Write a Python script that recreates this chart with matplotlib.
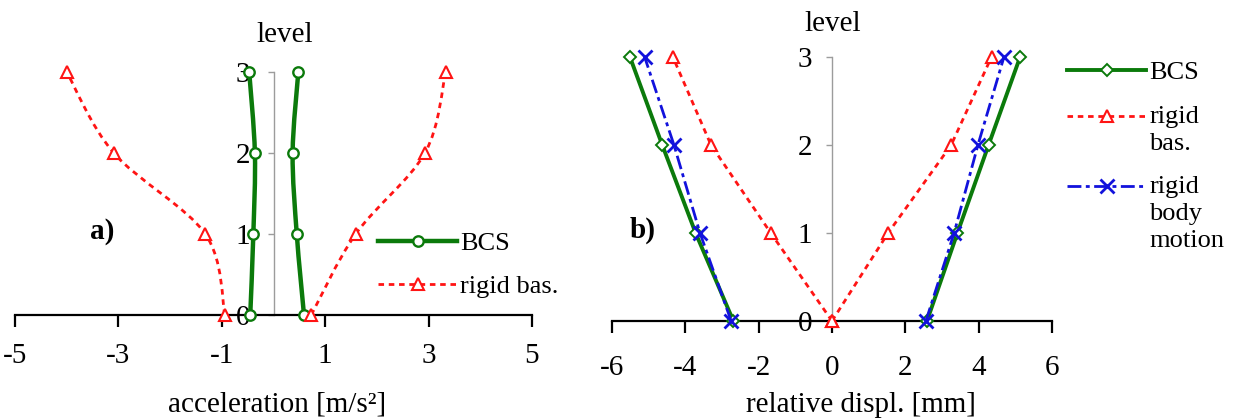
import matplotlib
matplotlib.use('Agg')
import numpy as np
import matplotlib.pyplot as plt
from matplotlib.path import Path
from matplotlib.patches import PathPatch
from matplotlib.lines import Line2D
from matplotlib.legend_handler import HandlerLine2D

plt.rcParams['font.family'] = ['Liberation Serif', 'DejaVu Serif']
plt.rcParams['axes.unicode_minus'] = False

# ---------------- data ----------------
levels = [0, 1, 2, 3]
level_labels = ['0', '1', '2', '3']

acc_ticks = [-5, -3, -1, 1, 3, 5]
acc_bcs_min = [-0.45, -0.39, -0.36, -0.47]
acc_bcs_max = [0.59, 0.45, 0.37, 0.48]
acc_rigid_min = [-0.94, -1.32, -3.09, -4.00]
acc_rigid_max = [0.73, 1.59, 2.93, 3.33]

disp_ticks = [-6, -4, -2, 0, 2, 4, 6]
disp_bcs_min = [-2.69, -3.72, -4.63, -5.51]
disp_bcs_max = [2.59, 3.42, 4.27, 5.13]
disp_rigid_min = [0.0, -1.67, -3.30, -4.34]
disp_rigid_max = [0.0, 1.53, 3.25, 4.35]
disp_rbm_min = [-2.75, -3.60, -4.31, -5.11]
disp_rbm_max = [2.56, 3.33, 3.98, 4.69]

labels_a = ['BCS', 'rigid bas.']
labels_b = ['BCS', 'rigid\nbas.', 'rigid\nbody\nmotion']

# ---------------- styles ----------------
GREEN = '#0b7a0b'
RED = '#ff1414'
BLUE = '#1212dc'
GRAY = '#9c9c9c'
RED_LS = (0, (2.0, 1.7))
BLUE_LS = (0, (5.0, 1.6, 1.4, 1.6))

W, H = 1235, 419
fig = plt.figure(figsize=(W / 100, H / 100), dpi=100)


def px_rect(x0, y0, x1, y1):
    return [x0 / W, 1 - y1 / H, (x1 - x0) / W, (y1 - y0) / H]


axA = fig.add_axes(px_rect(15, 72, 532, 315))
axB = fig.add_axes(px_rect(612, 57, 1052, 321))


def style(ax, xlim, xticks, pad_x, pad_y):
    ax.set_xlim(*xlim)
    ax.set_ylim(0, 3)
    ax.patch.set_visible(False)
    for s in ['top', 'right']:
        ax.spines[s].set_visible(False)
    ax.spines['left'].set_position(('data', 0))
    ax.spines['left'].set_color(GRAY)
    ax.spines['left'].set_linewidth(1.0)
    ax.spines['bottom'].set_color('black')
    ax.spines['bottom'].set_linewidth(1.6)
    ax.set_xticks(xticks)
    ax.set_xticklabels([str(t) for t in xticks])
    ax.set_yticks(levels)
    ax.set_yticklabels(level_labels)
    ax.tick_params(axis='x', direction='out', length=8.5, width=1.6,
                   pad=pad_x, labelsize=21, colors='black')
    ax.tick_params(axis='y', direction='out', length=4.5, width=1.0,
                   color=GRAY, labelcolor='black', pad=pad_y, labelsize=21)


style(axA, (-5, 5), acc_ticks, 11.5, 12.5)
style(axB, (-6, 6), disp_ticks, 16, 9.5)


def smooth_path(xs, ys):
    pts = np.column_stack([xs, ys]).astype(float)
    n = len(pts)
    verts = [pts[0]]
    codes = [Path.MOVETO]
    for i in range(n - 1):
        p0 = pts[i - 1] if i > 0 else pts[i]
        p1 = pts[i]
        p2 = pts[i + 1]
        p3 = pts[i + 2] if i + 2 < n else pts[i + 1]
        verts += [p1 + (p2 - p0) / 6.0, p2 - (p3 - p1) / 6.0, p2]
        codes += [Path.CURVE4] * 3
    return Path(verts, codes)


bcs_a = dict(color=GREEN, lw=3.2, ls='-', marker='o', ms=7.5, mfc='white',
             mec=GREEN, mew=1.7)
rig_a = dict(color=RED, lw=2.0, ls=RED_LS, marker='^', ms=8, mfc='white',
             mec=RED, mew=1.5)

# ---------------- panel a ----------------
for xs in (acc_bcs_min, acc_bcs_max):
    axA.add_patch(PathPatch(smooth_path(xs, levels), fill=False,
                            edgecolor=GREEN, lw=3.2, zorder=3, clip_on=False))
    axA.plot(xs, levels, ls='none', marker='o', ms=7.5, mfc='white',
             mec=GREEN, mew=1.7, zorder=4, clip_on=False)
for xs in (acc_rigid_min, acc_rigid_max):
    axA.add_patch(PathPatch(smooth_path(xs, levels), fill=False,
                            edgecolor=RED, lw=2.0, ls=RED_LS, zorder=3,
                            clip_on=False))
    axA.plot(xs, levels, ls='none', marker='^', ms=8, mfc='white',
             mec=RED, mew=1.5, zorder=4, clip_on=False)

hA = [Line2D([], [], **bcs_a), Line2D([], [], **rig_a)]
axA.legend(hA, labels_a, loc='upper left',
           bbox_to_anchor=(378 / W, 1 - 232 / H), bbox_transform=fig.transFigure,
           frameon=False, fontsize=19, handlelength=3.0, handletextpad=0.12,
           labelspacing=0.72, borderpad=0, borderaxespad=0, numpoints=1)

axA.text(0.522, 1.152, 'level', transform=axA.transAxes, ha='center',
         va='center', fontsize=21)
axA.text(0.168, 0.342, 'a)', transform=axA.transAxes, ha='center',
         va='center', fontsize=21, fontweight='bold')
axA.set_xlabel('acceleration [m/s²]', fontsize=21)
axA.xaxis.set_label_coords(0.507, -0.37)
axA.xaxis.label.set_va('center')

# ---------------- panel b ----------------
bcs_b = dict(color=GREEN, lw=2.8, ls='-', marker='D', ms=6.5, mfc='white',
             mec=GREEN, mew=1.4)
rig_b = dict(color=RED, lw=2.0, ls=RED_LS, marker='^', ms=8, mfc='white',
             mec=RED, mew=1.5)
rbm_b = dict(color=BLUE, lw=2.0, ls=BLUE_LS, marker='x', ms=10, mew=2.0)

for xs in (disp_bcs_min, disp_bcs_max):
    axB.plot(xs, levels, zorder=3, clip_on=False, **bcs_b)
for xs in (disp_rigid_min, disp_rigid_max):
    axB.plot(xs, levels, zorder=3, clip_on=False, **rig_b)
for xs in (disp_rbm_min, disp_rbm_max):
    axB.plot(xs, levels, zorder=4, clip_on=False, **rbm_b)


class ShiftedHandler(HandlerLine2D):
    def __init__(self, dy=0.0, **kw):
        super().__init__(**kw)
        self.dy = dy

    def create_artists(self, legend, orig_handle, xdescent, ydescent, width,
                       height, fontsize, trans):
        arts = super().create_artists(legend, orig_handle, xdescent, ydescent,
                                      width, height, fontsize, trans)
        for a in arts:
            a.set_ydata(np.asarray(a.get_ydata(), dtype=float) + self.dy)
        return arts


LS_B = 1.3
line_pt = 19.5
hB = [Line2D([], [], **bcs_b), Line2D([], [], **rig_b), Line2D([], [], **rbm_b)]
legB = axB.legend(hB, labels_b, loc='upper left',
                  bbox_to_anchor=(1067 / W, 1 - 61 / H),
                  bbox_transform=fig.transFigure, frameon=False, fontsize=19,
                  handlelength=3.0, handletextpad=0.12, labelspacing=0.8,
                  borderpad=0, borderaxespad=0, numpoints=1,
                  handler_map={hB[0]: ShiftedHandler(0.0),
                               hB[1]: ShiftedHandler(line_pt / 2),
                               hB[2]: ShiftedHandler(line_pt)})
for t in legB.get_texts():
    t.set_linespacing(LS_B)

axB.text(0.502, 1.125, 'level', transform=axB.transAxes, ha='center',
         va='center', fontsize=21)
axB.text(0.07, 0.345, 'b)', transform=axB.transAxes, ha='center',
         va='center', fontsize=21, fontweight='bold')
axB.set_xlabel('relative displ. [mm]', fontsize=21)
axB.xaxis.set_label_coords(0.566, -0.318)
axB.xaxis.label.set_va('center')

fig.savefig('out.png', dpi=100)
